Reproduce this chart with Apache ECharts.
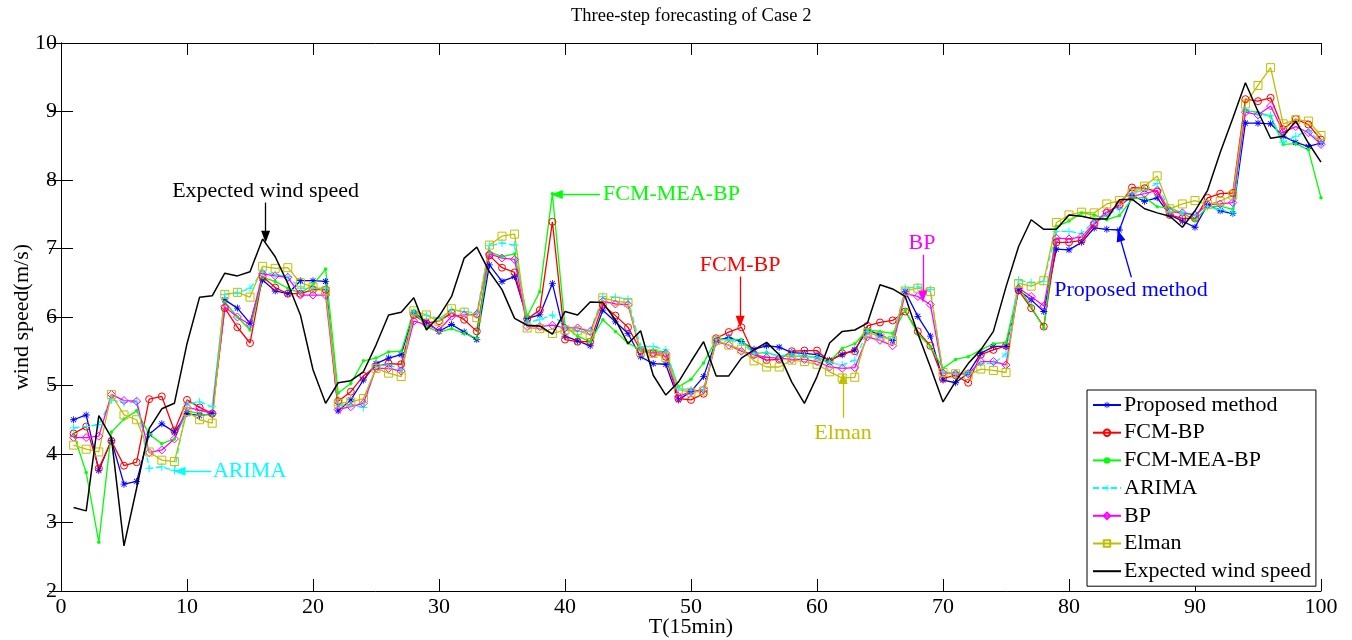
<!DOCTYPE html>
<html>
<head>
<meta charset="utf-8">
<script src="https://cdn.jsdelivr.net/npm/echarts@6/dist/echarts.min.js"></script>
<style>
  html, body { margin: 0; padding: 0; background: #fff; }
  #chart { width: 1352px; height: 640px; }
</style>
</head>
<body>
<div id="chart"></div>
<script>
// T = 1..100 (15 min steps)
const steps = Array.from({ length: 100 }, (_, i) => i + 1)

const proposed = [
  4.50, 4.57, 3.76, 4.20, 3.56, 3.60, 4.29, 4.44, 4.32, 4.59,
  4.56, 4.59, 6.25, 6.13, 5.91, 6.54, 6.38, 6.34, 6.53, 6.53,
  6.52, 4.63, 4.79, 5.08, 5.32, 5.40, 5.45, 6.07, 5.93, 5.79,
  5.89, 5.78, 5.67, 6.76, 6.52, 6.59, 5.98, 6.03, 6.49, 5.72,
  5.65, 5.58, 6.10, 5.93, 5.76, 5.42, 5.32, 5.31, 4.79, 4.91,
  5.13, 5.66, 5.70, 5.64, 5.53, 5.58, 5.56, 5.48, 5.47, 5.45,
  5.37, 5.45, 5.52, 5.81, 5.74, 5.66, 6.37, 6.01, 5.72, 5.08,
  5.04, 5.18, 5.47, 5.57, 5.57, 6.39, 6.25, 6.08, 6.99, 6.98,
  7.09, 7.30, 7.28, 7.27, 7.77, 7.69, 7.74, 7.49, 7.40, 7.31,
  7.64, 7.55, 7.51, 8.83, 8.83, 8.82, 8.64, 8.55, 8.49, 8.54
]
const fcmBp = [
  4.30, 4.40, 3.79, 4.19, 3.83, 3.88, 4.80, 4.84, 4.34, 4.79,
  4.68, 4.59, 6.13, 5.85, 5.62, 6.59, 6.43, 6.34, 6.34, 6.40,
  6.40, 4.77, 4.91, 5.14, 5.28, 5.32, 5.31, 6.03, 5.91, 5.94,
  6.06, 5.96, 5.79, 6.90, 6.72, 6.65, 5.97, 6.10, 7.39, 5.67,
  5.64, 5.64, 6.18, 6.02, 5.85, 5.51, 5.47, 5.42, 4.81, 4.79,
  4.88, 5.69, 5.78, 5.85, 5.45, 5.37, 5.38, 5.50, 5.51, 5.51,
  5.35, 5.47, 5.50, 5.87, 5.92, 5.95, 6.08, 5.79, 5.58, 5.10,
  5.15, 5.04, 5.45, 5.52, 5.58, 6.39, 6.13, 5.86, 7.09, 7.09,
  7.12, 7.35, 7.52, 7.64, 7.89, 7.88, 7.83, 7.49, 7.44, 7.44,
  7.74, 7.80, 7.81, 9.18, 9.15, 9.20, 8.74, 8.89, 8.81, 8.59
]
const fcmMeaBp = [
  4.29, 3.73, 2.71, 4.32, 4.51, 4.63, 4.29, 4.15, 4.22, 4.63,
  4.59, 4.56, 6.22, 6.00, 5.81, 6.58, 6.52, 6.42, 6.35, 6.47,
  6.70, 4.89, 5.03, 5.36, 5.40, 5.49, 5.50, 6.09, 5.86, 5.78,
  5.83, 5.76, 5.69, 6.95, 6.88, 6.92, 6.01, 6.37, 7.80, 5.86,
  5.72, 5.64, 5.96, 5.79, 5.62, 5.52, 5.51, 5.49, 4.98, 5.09,
  5.33, 5.67, 5.67, 5.67, 5.47, 5.48, 5.43, 5.43, 5.43, 5.41,
  5.35, 5.54, 5.61, 5.81, 5.79, 5.76, 6.10, 5.75, 5.57, 5.25,
  5.38, 5.42, 5.52, 5.61, 5.63, 6.44, 6.15, 5.84, 7.32, 7.40,
  7.52, 7.49, 7.42, 7.48, 7.72, 7.75, 7.61, 7.59, 7.52, 7.41,
  7.61, 7.62, 7.57, 9.01, 8.99, 8.93, 8.52, 8.53, 8.44, 7.74
]
const arima = [
  4.38, 4.40, 4.43, 4.79, 4.75, 4.76, 3.79, 3.81, 3.76, 4.73,
  4.76, 4.69, 6.33, 6.35, 6.42, 6.66, 6.62, 6.59, 6.42, 6.42,
  6.42, 4.71, 4.72, 4.68, 5.28, 5.30, 5.24, 6.06, 6.02, 5.98,
  6.10, 6.08, 6.06, 7.04, 7.08, 7.05, 5.92, 5.96, 6.03, 5.87,
  5.79, 5.79, 6.30, 6.29, 6.26, 5.57, 5.57, 5.52, 4.96, 4.93,
  4.93, 5.67, 5.67, 5.62, 5.47, 5.47, 5.43, 5.46, 5.43, 5.40,
  5.33, 5.30, 5.37, 5.79, 5.71, 5.69, 6.42, 6.44, 6.40, 5.20,
  5.18, 5.18, 5.32, 5.32, 5.46, 6.54, 6.50, 6.52, 7.25, 7.25,
  7.22, 7.40, 7.49, 7.58, 7.81, 7.85, 7.95, 7.54, 7.53, 7.49,
  7.61, 7.57, 7.52, 9.03, 8.96, 8.94, 8.55, 8.64, 8.72, 8.55
]
const bp = [
  4.24, 4.24, 4.26, 4.87, 4.78, 4.77, 4.02, 4.06, 4.22, 4.68,
  4.64, 4.59, 6.15, 6.00, 5.89, 6.63, 6.60, 6.58, 6.32, 6.32,
  6.32, 4.65, 4.69, 4.74, 5.25, 5.25, 5.21, 5.94, 5.89, 5.81,
  6.01, 6.03, 6.04, 6.92, 6.86, 6.84, 5.86, 5.86, 5.88, 5.84,
  5.84, 5.79, 6.23, 6.19, 6.18, 5.49, 5.48, 5.47, 4.84, 4.91,
  4.94, 5.64, 5.59, 5.50, 5.45, 5.41, 5.40, 5.38, 5.38, 5.35,
  5.27, 5.25, 5.26, 5.71, 5.66, 5.58, 6.34, 6.30, 6.18, 5.18,
  5.17, 5.17, 5.35, 5.35, 5.30, 6.42, 6.30, 6.16, 7.15, 7.14,
  7.17, 7.37, 7.54, 7.62, 7.76, 7.80, 7.85, 7.54, 7.52, 7.49,
  7.64, 7.65, 7.67, 8.99, 8.95, 9.08, 8.70, 8.78, 8.69, 8.52
]
const elman = [
  4.13, 4.07, 4.03, 4.87, 4.57, 4.50, 4.03, 3.91, 3.89, 4.62,
  4.50, 4.45, 6.33, 6.36, 6.29, 6.74, 6.71, 6.72, 6.50, 6.44,
  6.38, 4.74, 4.76, 4.81, 5.25, 5.18, 5.13, 6.09, 6.03, 5.93,
  6.12, 6.07, 5.99, 7.05, 7.18, 7.21, 5.84, 5.83, 5.76, 5.81,
  5.80, 5.74, 6.28, 6.23, 6.21, 5.49, 5.47, 5.41, 4.94, 4.90,
  4.92, 5.66, 5.59, 5.53, 5.36, 5.27, 5.27, 5.37, 5.35, 5.31,
  5.20, 5.11, 5.12, 5.77, 5.72, 5.66, 6.38, 6.42, 6.37, 5.19,
  5.17, 5.15, 5.24, 5.22, 5.19, 6.49, 6.45, 6.53, 7.38, 7.49,
  7.53, 7.52, 7.65, 7.70, 7.81, 7.91, 8.06, 7.58, 7.65, 7.70,
  7.64, 7.69, 7.78, 9.11, 9.38, 9.64, 8.82, 8.88, 8.86, 8.65
]
const expected = [
  3.22, 3.17, 4.56, 4.24, 2.66, 3.50, 4.37, 4.66, 4.74, 5.61,
  6.29, 6.31, 6.64, 6.60, 6.66, 7.14, 6.88, 6.49, 6.03, 5.23,
  4.74, 5.04, 5.07, 5.20, 5.59, 6.03, 6.07, 6.28, 5.81, 6.01,
  6.30, 6.86, 7.02, 6.66, 6.40, 5.98, 5.88, 5.87, 5.75, 6.08,
  6.03, 6.22, 6.21, 5.96, 5.61, 5.80, 5.15, 4.86, 5.05, 5.35,
  5.64, 5.14, 5.14, 5.40, 5.52, 5.63, 5.45, 5.05, 4.74, 5.13,
  5.62, 5.79, 5.81, 5.91, 6.47, 6.41, 6.30, 5.76, 5.27, 4.76,
  5.06, 5.32, 5.52, 5.79, 6.44, 7.03, 7.42, 7.28, 7.28, 7.49,
  7.47, 7.43, 7.43, 7.71, 7.72, 7.58, 7.52, 7.47, 7.31, 7.55,
  7.85, 8.40, 8.90, 9.42, 9.00, 8.61, 8.64, 8.86, 8.54, 8.26
]

const FONT = '"Liberation Serif", "Times New Roman", serif'

// 标记形状
const STAR = 'path://M0 4.4H10V5.6H0Z M4.4 0H5.6V10H4.4Z M1 1.8L1.8 1L9 8.2L8.2 9Z M8.2 1L9 1.8L1.8 9L1 8.2Z'
const PLUS = 'path://M0 4.4H10V5.6H0Z M4.4 0H5.6V10H4.4Z'

// 注释: 文字位置, 箭头起点, 箭头终点 (数据坐标)
const notes = [
  { text: 'Expected wind speed', color: '#000000', at: [16.24, 7.83], from: [16.24, 7.67], to: [16.24, 7.17] },
  { text: 'FCM-MEA-BP', color: '#00ff00', at: [48.45, 7.79], from: [42.77, 7.79], to: [39.35, 7.79] },
  { text: 'FCM-BP', color: '#ff0000', at: [53.9, 6.75], from: [53.9, 6.59], to: [53.9, 5.93] },
  { text: 'Elman', color: '#bfbf00', at: [62.07, 4.31], from: [62.07, 4.53], to: [62.07, 5.11] },
  { text: 'BP', color: '#ff00ff', at: [68.33, 7.08], from: [68.4, 6.91], to: [68.4, 6.30] },
  { text: 'Proposed method', color: '#0000ff', at: [84.92, 6.39], from: [84.95, 6.58], to: [84.0, 7.19] },
  { text: 'ARIMA', color: '#00ffff', at: [14.97, 3.75], from: [11.93, 3.75], to: [9.41, 3.75] }
]

const pairs = arr => steps.map((t, i) => [t, arr[i]])

const makeSeries = (name, arr, color, symbol, size, opts = {}) => ({
  name,
  type: 'line',
  data: pairs(arr),
  color,
  symbol,
  symbolSize: size,
  showSymbol: true,
  itemStyle: opts.hollow
    ? { color: 'rgba(0,0,0,0)', borderColor: color, borderWidth: 1 }
    : { color, borderWidth: 0 },
  lineStyle: { color, width: opts.width || 1.3, type: opts.dash || 'solid' },
  emphasis: { disabled: true },
  z: opts.z || 2
})

const chart = echarts.init(document.getElementById('chart'))

const series = [
  makeSeries('Proposed method', proposed, '#0000ff', STAR, 7),
  makeSeries('FCM-BP', fcmBp, '#ff0000', 'circle', 7, { hollow: true }),
  makeSeries('FCM-MEA-BP', fcmMeaBp, '#00ff00', 'circle', 3.5),
  makeSeries('ARIMA', arima, '#00ffff', PLUS, 8, { dash: [6, 3] }),
  makeSeries('BP', bp, '#ff00ff', 'diamond', 8, { hollow: true }),
  makeSeries('Elman', elman, '#bfbf00', 'rect', 8, { hollow: true }),
  makeSeries('Expected wind speed', expected, '#000000', 'none', 0, { width: 1.5, z: 3 })
]

// 注释箭头和文字
series.push({
  name: 'notes',
  type: 'line',
  data: [],
  silent: true,
  markLine: {
    silent: true,
    animation: false,
    symbol: ['none', 'triangle'],
    symbolSize: [9, 12],
    label: { show: false },
    data: notes.map(n => [
      { coord: n.from, lineStyle: { color: n.color, width: 1.3, type: 'solid' } },
      { coord: n.to }
    ])
  },
  markPoint: {
    silent: true,
    animation: false,
    data: notes.map(n => ({
      coord: n.at,
      symbol: 'rect',
      symbolSize: 0,
      itemStyle: { color: 'rgba(0,0,0,0)' },
      label: {
        show: true,
        position: 'inside',
        formatter: n.text,
        color: n.color,
        fontSize: 22,
        fontFamily: FONT
      }
    }))
  }
})

const legendNames = series.slice(0, 7).map(s => s.name)

const tickStyle = { inside: true, length: 12, lineStyle: { color: '#000', width: 1 } }
const lineStyleAxis = { show: true, lineStyle: { color: '#000', width: 1 } }

chart.setOption({
  animation: false,
  backgroundColor: '#ffffff',
  title: {
    text: 'Three-step forecasting of Case 2',
    left: 571,
    top: 7,
    padding: 0,
    textStyle: { fontFamily: FONT, fontSize: 18.5, fontWeight: 'normal', color: '#000' }
  },
  grid: { left: 61, right: 31, top: 43, bottom: 49, containLabel: false, outerBoundsMode: 'none' },
  legend: {
    data: legendNames.map(name => name === 'Expected wind speed'
      ? { name, itemStyle: { color: 'rgba(0,0,0,0)', borderWidth: 0 } }
      : { name }),
    orient: 'vertical',
    left: 1087,
    top: 390,
    padding: [4, 5, 4, 5],
    itemWidth: 28,
    itemHeight: 8,
    itemGap: 5.7,
    backgroundColor: '#ffffff',
    borderColor: '#000',
    borderWidth: 1,
    borderRadius: 0,
    textStyle: { fontFamily: FONT, fontSize: 22, lineHeight: 22, color: '#000', padding: [0, 0, 0, -2] }
  },
  xAxis: [
    {
      type: 'value',
      min: 0,
      max: 100,
      interval: 10,
      name: 'T(15min)',
      nameLocation: 'middle',
      nameGap: 25,
      nameMoveOverlap: false,
      nameTextStyle: { fontFamily: FONT, fontSize: 22, color: '#000' },
      axisLine: lineStyleAxis,
      axisTick: tickStyle,
      axisLabel: { fontFamily: FONT, fontSize: 22, color: '#000', margin: 5 },
      splitLine: { show: false }
    },
    {
      type: 'value',
      position: 'top',
      min: 0,
      max: 100,
      interval: 10,
      axisLine: lineStyleAxis,
      axisTick: tickStyle,
      axisLabel: { show: false },
      splitLine: { show: false }
    }
  ],
  yAxis: [
    {
      type: 'value',
      min: 2,
      max: 10,
      interval: 1,
      name: 'wind speed(m/s)',
      nameLocation: 'middle',
      nameGap: 28,
      nameMoveOverlap: false,
      nameTextStyle: { fontFamily: FONT, fontSize: 22, color: '#000' },
      axisLine: lineStyleAxis,
      axisTick: tickStyle,
      axisLabel: { fontFamily: FONT, fontSize: 22, color: '#000', margin: 4 },
      splitLine: { show: false }
    },
    {
      type: 'value',
      position: 'right',
      min: 2,
      max: 10,
      interval: 1,
      axisLine: lineStyleAxis,
      axisTick: tickStyle,
      axisLabel: { show: false },
      splitLine: { show: false }
    }
  ],
  series
})
</script>
</body>
</html>
